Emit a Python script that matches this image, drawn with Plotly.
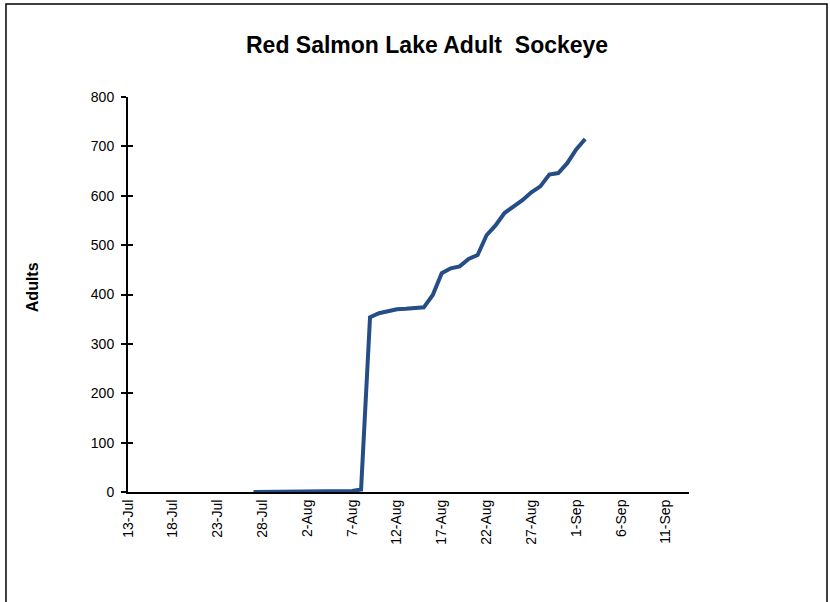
import plotly.graph_objects as go

dates = ["2010-07-27", "2010-07-28", "2010-07-29", "2010-07-30", "2010-07-31",
         "2010-08-01", "2010-08-02", "2010-08-03", "2010-08-04", "2010-08-05",
         "2010-08-06", "2010-08-07", "2010-08-08", "2010-08-09", "2010-08-10",
         "2010-08-11", "2010-08-12", "2010-08-13", "2010-08-14", "2010-08-15",
         "2010-08-16", "2010-08-17", "2010-08-18", "2010-08-19", "2010-08-20",
         "2010-08-21", "2010-08-22", "2010-08-23", "2010-08-24", "2010-08-25",
         "2010-08-26", "2010-08-27", "2010-08-28", "2010-08-29", "2010-08-30",
         "2010-08-31", "2010-09-01", "2010-09-02"]
adults = [0, 0, 0, 0, 0,
          0, 0, 0, 0, 0,
          0, 2, 5, 354, 362,
          367, 370, 371, 372, 374,
          399, 443, 453, 457, 472,
          480, 520, 540, 565, 578,
          591, 607, 619, 643, 646,
          666, 694, 715]

title_text = "<b>Red Salmon Lake Adult  Sockeye</b>"
y_title = "<b>Adults</b>"
font_family = "Liberation Sans, Arial, sans-serif"

fig = go.Figure()
fig.add_trace(go.Scatter(x=dates, y=adults, mode="lines",
                         line=dict(color="#254E86", width=4),
                         showlegend=False, hoverinfo="skip"))
# hidden trace on yaxis2 so that the inside tick marks are drawn
fig.add_trace(go.Scatter(x=[dates[0]], y=[0], yaxis="y2", mode="markers",
                         marker=dict(opacity=0), showlegend=False,
                         hoverinfo="skip"))

fig.update_layout(
    width=830, height=602,
    margin=dict(l=128, r=141, t=97, b=110),
    paper_bgcolor="white", plot_bgcolor="white",
    font=dict(family=font_family, size=14, color="black"),
    xaxis=dict(type="date", range=["2010-07-13", "2010-09-13 14:00"],
               tick0="2010-07-13", dtick=5 * 86400000, tickformat="%-d-%b",
               tickangle=-90, ticks="", showgrid=False, zeroline=False,
               showline=True, linecolor="black", linewidth=2,
               tickfont=dict(size=14)),
    yaxis=dict(range=[0, 800], dtick=100, ticks="outside", ticklen=5,
               tickwidth=2, tickcolor="black", showgrid=False, zeroline=False,
               showline=True, linecolor="black", linewidth=2,
               ticklabelstandoff=4, tickfont=dict(size=14)),
    yaxis2=dict(range=[0, 800], dtick=100, overlaying="y", side="left",
                ticks="inside", ticklen=5, tickwidth=2, tickcolor="black",
                showticklabels=False, showgrid=False, zeroline=False,
                showline=False),
    annotations=[
        dict(text=title_text, xref="paper", yref="paper", x=0.533, y=1.1316,
             showarrow=False, font=dict(size=23, family=font_family),
             xanchor="center", yanchor="middle"),
        dict(text=y_title, xref="paper", yref="paper", x=-0.169, y=0.519,
             showarrow=False, textangle=-90, font=dict(size=16, family=font_family),
             xanchor="center", yanchor="middle"),
    ],
    shapes=[dict(type="rect", xref="paper", yref="paper",
                 x0=-0.2175, x1=1.246, y0=-0.3, y1=1.2355,
                 line=dict(color="black", width=1.5), layer="below")],
)

fig.write_html("out.html")
